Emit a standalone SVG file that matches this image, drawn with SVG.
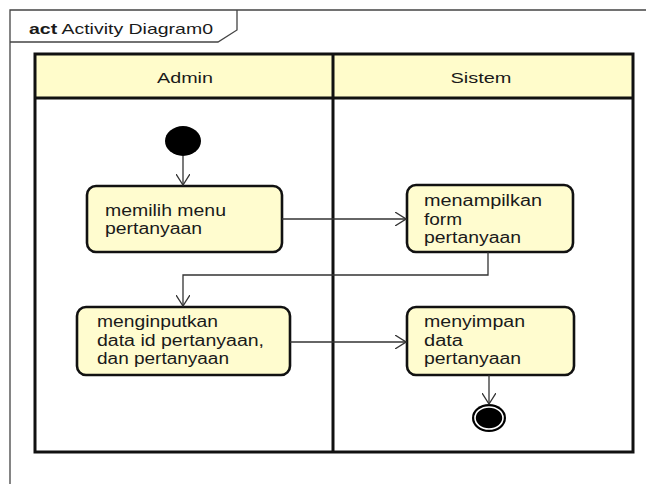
<svg xmlns="http://www.w3.org/2000/svg" width="646" height="484" viewBox="0 0 646 484">
<defs>
<style>
text{font-family:"Liberation Sans",Arial,sans-serif;fill:#1a1a1a}
.frame{fill:none;stroke:#444;stroke-width:1.3}
.lane{fill:none;stroke:#111;stroke-width:3}
.head{fill:#fffccb;stroke:none}
.act{fill:#fffccf;stroke:#111;stroke-width:2.6}
.lbl{font-size:16px}
.hd{font-size:15px}
.edge{fill:none;stroke:#333;stroke-width:1.3}
</style>
<marker id="arr" viewBox="0 0 12 14" refX="11" refY="7" markerWidth="12" markerHeight="14" markerUnits="userSpaceOnUse" orient="auto">
<path d="M0,0 L11,7 L0,14" fill="none" stroke="#333" stroke-width="1.3"/>
</marker>
</defs>
<rect width="646" height="484" fill="#fff"/>
<g id="frame">
<path class="frame" d="M10,484 V10 H646"/>
<path class="frame" d="M10,42 H218 L237,30 V10"/>
<text x="29" y="34" font-size="15" textLength="184" lengthAdjust="spacingAndGlyphs"><tspan font-weight="bold">act</tspan> Activity Diagram0</text>
</g>
<g id="lanes">
<rect class="head" x="35" y="54" width="598" height="44"/>
<rect class="lane" x="35" y="54" width="598" height="398"/>
<line class="lane" x1="35" y1="98" x2="633" y2="98"/>
<line class="lane" x1="333" y1="54" x2="333" y2="452"/>
<text class="hd" x="185" y="83" text-anchor="middle" textLength="56" lengthAdjust="spacingAndGlyphs">Admin</text>
<text class="hd" x="481" y="83" text-anchor="middle" textLength="61" lengthAdjust="spacingAndGlyphs">Sistem</text>
</g>
<g id="start">
<ellipse cx="183" cy="141" rx="18" ry="15" fill="#000"/>
</g>
<g id="a1">
<rect class="act" x="87" y="186" width="195" height="66" rx="9"/>
<text class="lbl" x="105" y="216" textLength="121" lengthAdjust="spacingAndGlyphs">memilih menu</text>
<text class="lbl" x="105" y="234" textLength="97" lengthAdjust="spacingAndGlyphs">pertanyaan</text>
</g>
<g id="a2">
<rect class="act" x="407" y="185" width="166" height="67" rx="9"/>
<text class="lbl" x="424" y="206" textLength="118" lengthAdjust="spacingAndGlyphs">menampilkan</text>
<text class="lbl" x="424" y="225" textLength="38" lengthAdjust="spacingAndGlyphs">form</text>
<text class="lbl" x="424" y="243" textLength="97" lengthAdjust="spacingAndGlyphs">pertanyaan</text>
</g>
<g id="a3">
<rect class="act" x="77" y="307" width="213" height="68" rx="9"/>
<text class="lbl" x="97" y="327" textLength="121" lengthAdjust="spacingAndGlyphs">menginputkan</text>
<text class="lbl" x="97" y="346" textLength="167" lengthAdjust="spacingAndGlyphs">data id pertanyaan,</text>
<text class="lbl" x="97" y="364" textLength="132" lengthAdjust="spacingAndGlyphs">dan pertanyaan</text>
</g>
<g id="a4">
<rect class="act" x="407" y="307" width="167" height="68" rx="9"/>
<text class="lbl" x="424" y="327" textLength="101" lengthAdjust="spacingAndGlyphs">menyimpan</text>
<text class="lbl" x="424" y="346" textLength="39" lengthAdjust="spacingAndGlyphs">data</text>
<text class="lbl" x="424" y="364" textLength="97" lengthAdjust="spacingAndGlyphs">pertanyaan</text>
</g>
<g id="end">
<ellipse cx="489" cy="418" rx="17" ry="14" fill="#000"/>
<ellipse cx="489" cy="418" rx="14" ry="11" fill="none" stroke="#fff" stroke-width="1.6"/>
</g>
<g id="connectors">
<path class="edge" d="M183,156 V185" marker-end="url(#arr)"/>
<path class="edge" d="M282,219 H406" marker-end="url(#arr)"/>
<path class="edge" d="M488,252 V275 H183 V306" marker-end="url(#arr)"/>
<path class="edge" d="M290,342 H406" marker-end="url(#arr)"/>
<path class="edge" d="M489,375 V404" marker-end="url(#arr)"/>
</g>
</svg>
